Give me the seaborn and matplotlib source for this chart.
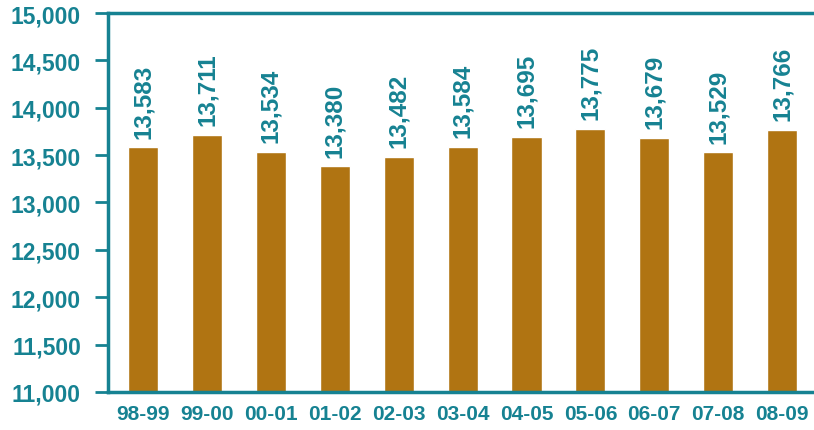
import matplotlib
matplotlib.use("Agg")
import matplotlib.pyplot as plt
import seaborn as sns
import pandas as pd
from matplotlib.ticker import FuncFormatter

years = ["98-99", "99-00", "00-01", "01-02", "02-03", "03-04",
         "04-05", "05-06", "06-07", "07-08", "08-09"]
values = [13583, 13711, 13534, 13380, 13482, 13584,
          13695, 13775, 13679, 13529, 13766]
y_ticks = [11000, 11500, 12000, 12500, 13000, 13500, 14000, 14500, 15000]

TEAL = "#168292"
BROWN = "#B07412"

sns.set_style("white")
plt.rcParams['font.family'] = ['Liberation Sans', 'DejaVu Sans']

df = pd.DataFrame({"year": years, "value": values})

fig = plt.figure(figsize=(8.14, 4.31), dpi=100)
ax = fig.add_axes([0.1327, 0.0882, 0.8673, 0.8793])
sns.barplot(data=df, x="year", y="value", color=BROWN, width=0.47,
            saturation=1, ax=ax)

ax.set_ylim(11000, 15000)
ax.set_xlim(-0.55, 10.5)
ax.set_yticks(y_ticks)
ax.yaxis.set_major_formatter(FuncFormatter(lambda v, p: f"{int(v):,}"))
ax.set_xlabel("")
ax.set_ylabel("")

for s in ["left", "bottom", "top"]:
    ax.spines[s].set_color(TEAL)
    ax.spines[s].set_linewidth(2.5)
ax.spines["right"].set_visible(False)

ax.tick_params(axis="y", which="major", direction="out", length=9.5, width=2,
               color=TEAL, labelcolor=TEAL, labelsize=16.5, pad=10, left=True)
ax.tick_params(axis="x", length=0, labelcolor=TEAL, labelsize=15, pad=9)
for lbl in ax.get_yticklabels() + ax.get_xticklabels():
    lbl.set_fontweight("bold")

for i, v in enumerate(values):
    ax.annotate(f"{v:,}", xy=(i, v), xytext=(0, 7), textcoords="offset points",
                rotation=90, ha="center", va="bottom", color=TEAL,
                fontsize=17.5, fontweight="bold")

fig.savefig("out.png", dpi=100)
